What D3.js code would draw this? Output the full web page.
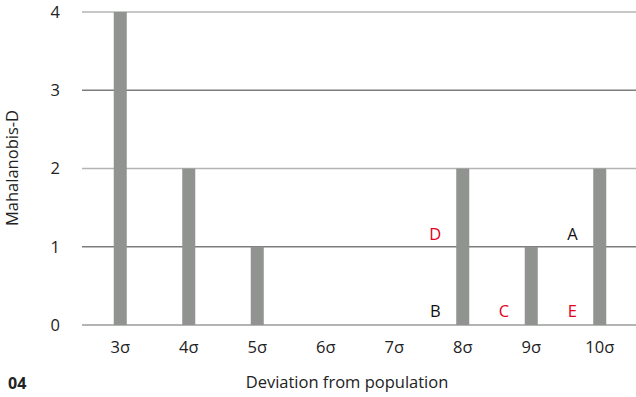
<!DOCTYPE html>
<html>
<head>
<meta charset="utf-8">
<script src="https://cdn.jsdelivr.net/npm/d3@7"></script>
<style>
  body { margin: 0; background: #fff; }
  svg { display: block; font-family: "Open Sans", sans-serif; }
  .tick text { fill: #222; }
</style>
</head>
<body>
<div id="chart"></div>
<script>
const WIDTH = 636;
const HEIGHT = 397;

// data
var categories = ["3σ", "4σ", "5σ", "6σ", "7σ", "8σ", "9σ", "10σ"];
var values = [4, 2, 1, 0, 0, 2, 1, 2];
var yTicks = [0, 1, 2, 3, 4];
// annotation letters: category they sit left of, height, colour group
var noteLabels = ["D", "A", "B", "C", "E"];
var noteCats = ["8σ", "10σ", "8σ", "9σ", "10σ"];
var noteVals = [1.16, 1.16, 0.17, 0.17, 0.17];
var noteRed = [true, false, false, true, true];

var svg = d3.select("#chart").append("svg")
    .attr("width", WIDTH)
    .attr("height", HEIGHT);

var x = d3.scaleBand().domain(categories).range([86, 634]).paddingInner(0.81).paddingOuter(0.405);
var y = d3.scaleLinear().domain([0, 4]).range([325, 12]);

// gridlines
svg.append("g")
  .selectAll("line")
  .data(yTicks)
  .join("line")
    .attr("x1", 82)
    .attr("x2", WIDTH)
    .attr("y1", d => y(d))
    .attr("y2", d => y(d))
    .attr("stroke", d => d % 2 ? "#7d7d7d" : "#b4b4b4")
    .attr("stroke-width", d => d == 0 ? 2 : 1.3);

// bars
svg.append("g")
  .selectAll("rect")
  .data(values)
  .join("rect")
    .attr("x", (d, i) => x(categories[i]))
    .attr("width", x.bandwidth())
    .attr("y", d => y(d))
    .attr("height", d => y(0) - y(d))
    .attr("fill", "#919391");

// y axis labels
var yAxis = svg.append("g")
    .attr("transform", "translate(60,0)")
    .call(d3.axisLeft(y).tickValues(yTicks).tickSize(0).tickPadding(0).tickFormat(d3.format("d")));
yAxis.select(".domain").remove();
yAxis.selectAll("text").attr("font-size", 16.5).attr("font-family", "Open Sans");

// x axis labels
var xAxis = svg.append("g")
    .attr("transform", "translate(0,341)")
    .call(d3.axisBottom(x).tickSize(0).tickPadding(0));
xAxis.select(".domain").remove();
xAxis.selectAll("text").attr("font-size", 16.5).attr("font-family", "Open Sans");

// annotations
var step = x.step();
svg.append("g")
  .selectAll("text")
  .data(noteLabels)
  .join("text")
    .attr("x", (d, i) => x(noteCats[i]) + x.bandwidth() / 2 - 0.4 * step)
    .attr("y", (d, i) => y(noteVals[i]))
    .attr("dy", "0.35em")
    .attr("text-anchor", "middle")
    .attr("font-size", 16.5)
    .attr("fill", (d, i) => noteRed[i] ? "#e3001b" : "#111")
    .text(d => d);

// titles
svg.append("text")
    .attr("transform", "translate(18,168) rotate(-90)")
    .attr("text-anchor", "middle")
    .attr("font-size", 16.5)
    .attr("fill", "#222")
    .text("Mahalanobis-D");

svg.append("text")
    .attr("x", 347)
    .attr("y", 388)
    .attr("text-anchor", "middle")
    .attr("font-size", 16.5)
    .attr("fill", "#222")
    .text("Deviation from population");

svg.append("text")
    .attr("x", 8)
    .attr("y", 389)
    .attr("font-size", 16)
    .attr("font-weight", "bold")
    .attr("fill", "#222")
    .text("04");
</script>
</body>
</html>
